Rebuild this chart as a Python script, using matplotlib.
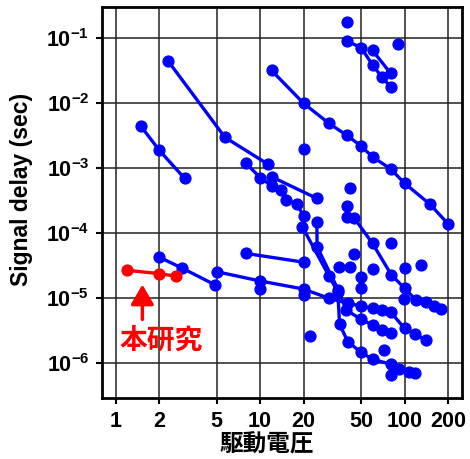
import matplotlib
matplotlib.use('Agg')
import matplotlib.pyplot as plt
from matplotlib.ticker import NullLocator, FixedLocator

plt.rcParams['font.family'] = ['Liberation Sans', 'Noto Sans CJK JP']
plt.rcParams['font.weight'] = 'bold'
plt.rcParams['mathtext.fontset'] = 'custom'
plt.rcParams['mathtext.rm'] = 'Liberation Sans:bold'
plt.rcParams['mathtext.bf'] = 'Liberation Sans:bold'

# connected series (drive voltage [V], signal delay [sec])
a_x = [1.5, 2, 3]
a_y = [4.4e-3, 1.9e-3, 7.0e-4]
b_x = [2.3, 5.7, 11.3]
b_y = [0.045, 3.0e-3, 1.16e-3]
c_x = [12, 20, 30, 40, 50, 60, 80, 100, 150, 200]
c_y = [0.032, 0.01, 4.9e-3, 3.2e-3, 2.2e-3, 1.5e-3, 9.8e-4, 5.9e-4, 2.8e-4, 1.4e-4]
t1_x = [40, 50, 60, 70, 80]
t1_y = [0.09, 0.072, 0.039, 0.025, 0.018]
t2_x = [60, 80]
t2_y = [0.065, 0.029]
d1_x = [8, 10, 12, 14, 15, 18, 20, 19.6, 30, 34.5, 35.5, 40.5, 50, 60, 80, 91, 107, 119]
d1_y = [1.19e-3, 7.2e-4, 5.4e-4, 4.6e-4, 3.25e-4, 2.8e-4, 1.85e-4, 1.26e-4, 2.2e-5,
        1.26e-5, 4.0e-6, 2.15e-6, 1.48e-6, 1.16e-6, 9.7e-7, 8.2e-7, 7.4e-7, 7.0e-7]
d2_x = [12, 24.7]
d2_y = [7.4e-4, 3.45e-4]
s2_x = [24.7, 24.8, 34.8, 39.5, 50, 60, 70, 80]
s2_y = [1.5e-4, 6.2e-5, 1.34e-5, 6.6e-6, 4.75e-6, 3.9e-6, 3.3e-6, 2.96e-6]
e_x = [2, 2.9, 4.9]
e_y = [4.3e-5, 2.9e-5, 1.6e-5]
f_x = [5, 10, 20, 30, 40.5, 50, 60, 70, 80, 100, 119, 140]
f_y = [2.57e-5, 1.85e-5, 1.39e-5, 1.0e-5, 8.4e-6, 7.6e-6, 7.0e-6, 6.6e-6, 6.2e-6,
       3.45e-6, 2.8e-6, 2.28e-6]
g_x = [45, 60, 81, 100, 120, 140, 160, 180]
g_y = [1.7e-4, 7.0e-5, 2.3e-5, 1.43e-5, 9.4e-6, 8.9e-6, 7.6e-6, 6.8e-6]
h_x = [8, 20]
h_y = [4.9e-5, 3.6e-5]
series = [(a_x, a_y), (b_x, b_y), (c_x, c_y), (t1_x, t1_y), (t2_x, t2_y), (d1_x, d1_y),
          (d2_x, d2_y), (s2_x, s2_y), (e_x, e_y), (f_x, f_y), (g_x, g_y), (h_x, h_y)]

# isolated reports
single_x = [40, 90, 20, 42, 40, 40, 45, 35, 42, 50, 50, 60, 80, 100, 130, 99,
            10, 20, 22, 72, 80]
single_y = [0.176, 0.083, 1.96e-3, 5.0e-4, 2.6e-4, 1.76e-4, 4.8e-5, 3.0e-5, 3.0e-5,
            2.15e-5, 1.45e-5, 2.8e-5, 7.2e-5, 2.9e-5, 3.3e-5, 9.7e-6,
            1.37e-5, 1.12e-5, 2.6e-6, 1.6e-6, 6.6e-7]

# this work
this_x = [1.2, 2, 2.6]
this_y = [2.7e-5, 2.4e-5, 2.2e-5]

x_ticks = [1, 2, 5, 10, 20, 50, 100, 200]
y_ticks = [1e-6, 1e-5, 1e-4, 1e-3, 1e-2, 1e-1]
y_labels = [r'$\mathbf{10^{-6}}$', r'$\mathbf{10^{-5}}$', r'$\mathbf{10^{-4}}$',
            r'$\mathbf{10^{-3}}$', r'$\mathbf{10^{-2}}$', r'$\mathbf{10^{-1}}$']

fig = plt.figure(figsize=(4.7, 4.59), dpi=100)
ax = fig.add_axes([0.2164, 0.1322, 0.7666, 0.852])
ax.set_xscale('log')
ax.set_yscale('log')

blue = '#0000ff'
for sx, sy in series:
    ax.plot(sx, sy, '-o', color=blue, lw=2.4, ms=7.8, zorder=3)
ax.plot(single_x, single_y, 'o', color=blue, ms=7.8, zorder=3)
ax.plot(this_x, this_y, '-o', color='#ff0000', lw=2.4, ms=7.8, zorder=4)

ax.annotate('', xy=(1.53, 1.8e-5), xytext=(1.53, 4.3e-6),
            arrowprops=dict(arrowstyle='-|>,head_length=0.6,head_width=0.35',
                            color='#ff0000', lw=2.5, mutation_scale=20))
ax.text(2.07, 2.25e-6, '本研究', color='#ff0000', fontsize=20, fontweight='bold',
        family=['Noto Sans CJK JP'], ha='center', va='center')

ax.set_xlim(0.8, 250)
ax.set_ylim(2.9e-7, 0.3)
ax.xaxis.set_major_locator(FixedLocator(x_ticks))
ax.xaxis.set_minor_locator(NullLocator())
ax.yaxis.set_major_locator(FixedLocator(y_ticks))
ax.yaxis.set_minor_locator(NullLocator())
ax.set_xticklabels([str(v) for v in x_ticks], fontsize=15.5, fontweight='bold')
ax.set_yticklabels(y_labels, fontsize=15.5)
ax.tick_params(axis='both', direction='out', length=4, width=1.5, pad=5)

ax.grid(True, color='#222222', lw=1.1, zorder=1)
for sp in ax.spines.values():
    sp.set_linewidth(2)

ax.set_xlabel('駆動電圧', fontsize=17, fontweight='bold', family=['Noto Sans CJK JP'])
ax.xaxis.set_label_coords(0.458, -0.088)
ax.set_ylabel('Signal delay (sec)', fontsize=16.5, fontweight='bold')
ax.yaxis.set_label_coords(-0.19, 0.535)

fig.savefig('out.png', dpi=100)
